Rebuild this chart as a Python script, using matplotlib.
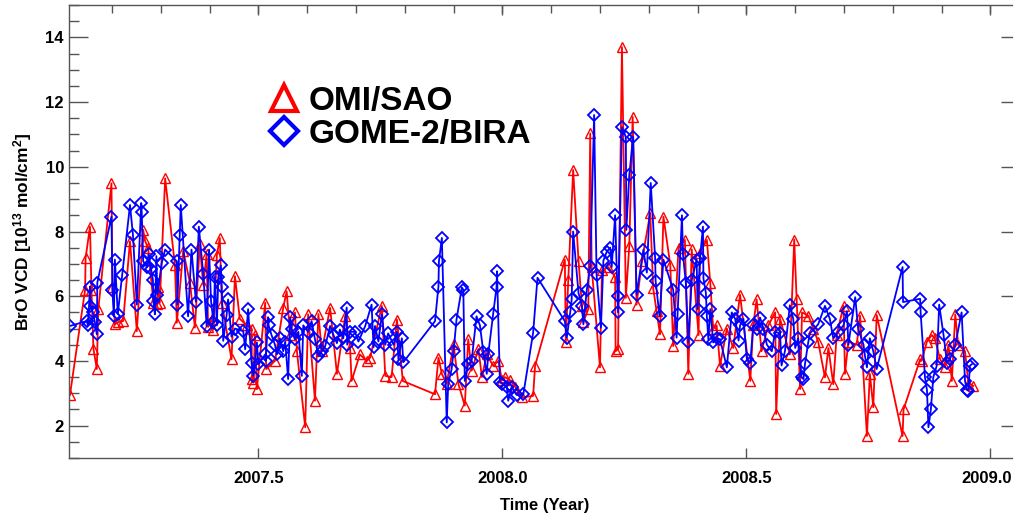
import matplotlib
matplotlib.use('Agg')
import matplotlib.pyplot as plt
import matplotlib.transforms as mtransforms
from matplotlib.lines import Line2D
from matplotlib.ticker import MultipleLocator

# ---- font ----
plt.rcParams['font.family'] = ['Liberation Sans', 'DejaVu Sans']
plt.rcParams['font.weight'] = 'bold'
plt.rcParams['mathtext.fontset'] = 'custom'
plt.rcParams['mathtext.rm'] = 'Liberation Sans:bold'
plt.rcParams['mathtext.default'] = 'rm'

# ================= data =================
# OMI/SAO
omi_year = [
    2007.114, 2007.145, 2007.146, 2007.155, 2007.158, 2007.162, 2007.169, 2007.172,
    2007.199, 2007.201, 2007.206, 2007.213, 2007.223, 2007.237, 2007.251, 2007.264,
    2007.268, 2007.274, 2007.285, 2007.292, 2007.295, 2007.298, 2007.309, 2007.329,
    2007.333, 2007.346, 2007.360, 2007.370, 2007.380, 2007.387, 2007.394, 2007.397,
    2007.404, 2007.408, 2007.415, 2007.421, 2007.425, 2007.445, 2007.452, 2007.462,
    2007.476, 2007.486, 2007.487, 2007.490, 2007.493, 2007.497, 2007.514, 2007.516,
    2007.534, 2007.551, 2007.558, 2007.565, 2007.575, 2007.579, 2007.596, 2007.602,
    2007.616, 2007.623, 2007.630, 2007.647, 2007.661, 2007.678, 2007.688, 2007.691,
    2007.708, 2007.722, 2007.729, 2007.753, 2007.760, 2007.773, 2007.784, 2007.796,
    2007.862, 2007.869, 2007.876, 2007.886, 2007.900, 2007.910, 2007.923, 2007.930,
    2007.937, 2007.951, 2007.958, 2007.968, 2007.981, 2007.992, 2007.999, 2008.005,
    2008.016, 2008.026, 2008.040, 2008.063, 2008.067, 2008.128, 2008.130, 2008.135,
    2008.145, 2008.156, 2008.163, 2008.166, 2008.176, 2008.180, 2008.183, 2008.200,
    2008.204, 2008.217, 2008.231, 2008.232, 2008.237, 2008.245, 2008.253, 2008.260,
    2008.267, 2008.275, 2008.286, 2008.303, 2008.309, 2008.316, 2008.323, 2008.330,
    2008.344, 2008.350, 2008.361, 2008.374, 2008.381, 2008.388, 2008.402, 2008.405,
    2008.419, 2008.426, 2008.432, 2008.439, 2008.446, 2008.460, 2008.473, 2008.487,
    2008.508, 2008.514, 2008.521, 2008.531, 2008.545, 2008.559, 2008.561, 2008.569,
    2008.589, 2008.598, 2008.603, 2008.610, 2008.614, 2008.627, 2008.637, 2008.647,
    2008.661, 2008.668, 2008.678, 2008.685, 2008.699, 2008.702, 2008.709, 2008.726,
    2008.733, 2008.747, 2008.753, 2008.760, 2008.767, 2008.820, 2008.822, 2008.856,
    2008.859, 2008.870, 2008.880, 2008.886, 2008.897, 2008.907, 2008.914, 2008.921,
    2008.928, 2008.934, 2008.948, 2008.955, 2008.965,
]
omi_vcd = [
    2.95, 6.2, 7.18, 8.15, 6.2, 4.38, 3.75, 5.6,
    9.49, 6.3, 5.13, 5.2, 5.23, 7.7, 4.92, 8.05,
    7.7, 7.5, 5.8, 5.77, 6.3, 5.8, 9.64, 6.97,
    5.18, 7.4, 6.4, 5.03, 7.6, 6.35, 7.3, 5.05,
    5.3, 4.97, 7.27, 7.8, 5.8, 4.05, 6.62, 5.3,
    5.1, 5.0, 3.44, 3.33, 4.8, 3.13, 5.8, 3.75,
    4.0, 5.65, 6.15, 4.8, 5.5, 4.3, 1.95, 5.44,
    2.77, 5.45, 4.3, 5.64, 3.6, 5.4, 4.4, 3.38,
    4.2, 4.0, 4.1, 5.7, 3.54, 3.5, 5.28, 3.38,
    2.97, 4.1, 3.6, 3.3, 4.51, 3.28, 2.62, 4.67,
    3.7, 4.37, 3.5, 4.2, 3.85, 4.0, 3.4, 3.5,
    3.4, 3.2, 2.87, 2.92, 3.85, 7.13, 4.57, 6.5,
    9.9, 7.1, 5.7, 5.2, 5.6, 11.03, 6.9, 3.8,
    6.8, 6.9, 6.6, 4.3, 4.36, 13.7, 5.95, 7.54,
    11.54, 5.74, 7.1, 8.57, 6.25, 5.54, 4.82, 8.46,
    6.97, 4.46, 7.5, 7.74, 3.6, 7.45, 4.8, 7.35,
    7.74, 6.4, 5.0, 5.1, 3.85, 5.0, 4.4, 6.05,
    3.38, 5.1, 5.9, 4.3, 5.1, 5.5, 2.36, 5.3,
    4.2, 7.75, 5.9, 3.13, 5.5, 5.4, 5.0, 4.6,
    3.49, 4.4, 3.28, 4.8, 5.7, 3.6, 4.6, 4.5,
    5.4, 1.68, 3.6, 2.57, 5.42, 1.68, 2.5, 4.05,
    4.0, 4.6, 4.8, 4.7, 4.05, 3.8, 4.5, 3.38,
    5.44, 4.5, 4.3, 3.3, 3.23,
]

# GOME-2/BIRA
gome_year = [
    2007.114, 2007.148, 2007.151, 2007.155, 2007.156, 2007.161, 2007.165, 2007.169,
    2007.170, 2007.199, 2007.201, 2007.204, 2007.206, 2007.212, 2007.221, 2007.237,
    2007.243, 2007.251, 2007.260, 2007.261, 2007.264, 2007.272, 2007.275, 2007.280,
    2007.284, 2007.285, 2007.288, 2007.291, 2007.293, 2007.302, 2007.309, 2007.333,
    2007.334, 2007.339, 2007.341, 2007.356, 2007.363, 2007.372, 2007.378, 2007.387,
    2007.394, 2007.399, 2007.403, 2007.408, 2007.411, 2007.415, 2007.418, 2007.423,
    2007.425, 2007.428, 2007.435, 2007.438, 2007.445, 2007.452, 2007.469, 2007.473,
    2007.479, 2007.486, 2007.490, 2007.497, 2007.500, 2007.514, 2007.515, 2007.520,
    2007.521, 2007.527, 2007.534, 2007.538, 2007.544, 2007.551, 2007.555, 2007.561,
    2007.565, 2007.568, 2007.575, 2007.582, 2007.589, 2007.592, 2007.602, 2007.609,
    2007.616, 2007.623, 2007.630, 2007.637, 2007.647, 2007.654, 2007.661, 2007.667,
    2007.674, 2007.681, 2007.682, 2007.688, 2007.698, 2007.705, 2007.719, 2007.732,
    2007.736, 2007.739, 2007.746, 2007.753, 2007.760, 2007.766, 2007.777, 2007.784,
    2007.787, 2007.794, 2007.797, 2007.862, 2007.869, 2007.870, 2007.876, 2007.886,
    2007.889, 2007.896, 2007.900, 2007.906, 2007.917, 2007.920, 2007.923, 2007.930,
    2007.937, 2007.947, 2007.954, 2007.961, 2007.968, 2007.971, 2007.981, 2007.988,
    2007.989, 2007.995, 2007.999, 2008.009, 2008.012, 2008.019, 2008.029, 2008.043,
    2008.063, 2008.072, 2008.128, 2008.132, 2008.139, 2008.142, 2008.145, 2008.156,
    2008.163, 2008.166, 2008.173, 2008.180, 2008.188, 2008.193, 2008.202, 2008.207,
    2008.214, 2008.221, 2008.224, 2008.231, 2008.236, 2008.237, 2008.245, 2008.253,
    2008.254, 2008.260, 2008.268, 2008.275, 2008.289, 2008.296, 2008.304, 2008.313,
    2008.314, 2008.322, 2008.330, 2008.350, 2008.357, 2008.359, 2008.368, 2008.370,
    2008.376, 2008.381, 2008.388, 2008.398, 2008.400, 2008.405, 2008.411, 2008.412,
    2008.417, 2008.419, 2008.422, 2008.426, 2008.432, 2008.439, 2008.446, 2008.460,
    2008.470, 2008.477, 2008.484, 2008.487, 2008.494, 2008.501, 2008.508, 2008.514,
    2008.521, 2008.528, 2008.535, 2008.542, 2008.552, 2008.559, 2008.569, 2008.572,
    2008.579, 2008.589, 2008.596, 2008.600, 2008.606, 2008.613, 2008.617, 2008.620,
    2008.627, 2008.630, 2008.647, 2008.661, 2008.671, 2008.678, 2008.688, 2008.699,
    2008.706, 2008.709, 2008.723, 2008.729, 2008.740, 2008.743, 2008.747, 2008.753,
    2008.760, 2008.767, 2008.820, 2008.821, 2008.856, 2008.857, 2008.866, 2008.870,
    2008.873, 2008.878, 2008.883, 2008.890, 2008.895, 2008.904, 2008.911, 2008.917,
    2008.928, 2008.941, 2008.948, 2008.952, 2008.955, 2008.958, 2008.962,
]
gome_vcd = [
    5.08, 5.23, 5.1, 6.3, 5.7, 5.5, 5.2, 4.82,
    6.42, 8.46, 6.2, 5.38, 7.13, 5.45, 6.67, 8.82,
    7.9, 5.74, 8.88, 8.6, 7.08, 6.9, 7.3, 6.85,
    6.5, 5.85, 5.44, 7.24, 6.05, 7.03, 7.44, 7.08,
    5.74, 7.9, 8.82, 5.38, 7.44, 5.83, 8.15, 6.7,
    5.08, 7.44, 5.86, 5.2, 6.6, 5.1, 6.6, 6.95,
    6.3, 4.62, 5.43, 5.9, 4.75, 5.0, 4.92, 4.36,
    5.6, 3.95, 3.54, 4.57, 3.9, 4.2, 4.0, 5.35,
    5.1, 4.8, 4.5, 4.2, 4.7, 4.3, 4.6, 3.44,
    5.35, 5.0, 4.67, 4.9, 3.54, 5.1, 4.9, 5.23,
    4.67, 4.15, 4.3, 4.46, 5.08, 4.8, 4.55, 4.97,
    4.7, 5.65, 4.5, 4.9, 4.9, 4.6, 5.08, 5.74,
    4.42, 5.08, 4.6, 5.44, 4.5, 4.85, 4.5, 4.9,
    4.05, 4.7, 3.96, 5.23, 6.3, 7.08, 7.8, 2.1,
    3.28, 3.75, 4.3, 5.28, 6.27, 6.2, 3.38, 3.9,
    4.0, 5.38, 5.1, 4.27, 3.6, 4.2, 5.44, 6.27,
    6.77, 3.34, 3.3, 3.2, 2.77, 3.2, 2.95, 2.97,
    4.87, 6.57, 5.23, 4.72, 5.5, 5.9, 8.0, 6.1,
    5.7, 5.13, 6.2, 6.92, 11.6, 6.67, 5.03, 7.1,
    7.38, 7.5, 6.9, 8.5, 6.0, 5.5, 11.23, 10.92,
    8.05, 9.74, 10.92, 6.05, 7.44, 6.73, 9.5, 7.18,
    6.47, 5.38, 7.13, 6.2, 4.72, 5.44, 8.5, 7.3,
    6.4, 4.57, 6.5, 7.13, 5.6, 7.18, 8.15, 6.55,
    6.1, 5.38, 4.67, 5.6, 4.57, 4.7, 4.67, 3.8,
    5.5, 5.3, 4.63, 5.1, 5.3, 4.05, 3.95, 5.1,
    5.0, 5.34, 5.0, 4.5, 4.3, 4.9, 4.85, 3.86,
    4.3, 5.72, 5.3, 4.4, 4.7, 3.49, 3.44, 3.9,
    4.6, 4.85, 5.13, 5.7, 5.3, 4.7, 4.9, 5.1,
    5.54, 4.5, 5.97, 5.0, 4.5, 4.15, 3.8, 4.7,
    4.3, 3.75, 6.9, 5.82, 5.92, 5.5, 3.49, 3.1,
    1.95, 2.5, 3.5, 3.85, 5.74, 4.8, 3.95, 4.05,
    4.5, 5.5, 3.38, 3.1, 3.08, 3.85, 3.9,
]

x_major = [2007.5, 2008.0, 2008.5, 2009.0]

# ================= plot =================
fig = plt.figure(figsize=(10.13, 5.16), dpi=100, facecolor='white')
ax = fig.add_axes([0.0686, 0.1124, 0.938, 0.8779])

ax.plot(omi_year, omi_vcd, color='#FF0000', lw=1.3, marker='^', ms=7.5,
        mfc='none', mec='#FF0000', mew=1.0)
ax.plot(gome_year, gome_vcd, color='#0000FF', lw=1.3, marker='D', ms=6.2,
        mfc='none', mec='#0000FF', mew=1.3)

ax.set_xlim(2007.113, 2009.06)
ax.set_ylim(1, 15)

# ---- ticks: IDL style, inward ----
ax.set_xticks(x_major)
ax.set_xticklabels([f"{v:.1f}" for v in x_major])
ax.yaxis.set_major_locator(MultipleLocator(2))
ax.yaxis.set_minor_locator(MultipleLocator(0.5))
ax.set_yticks([2, 4, 6, 8, 10, 12, 14])
ax.tick_params(axis='y', which='major', direction='in', length=14, width=1,
               left=True, right=True, labelsize=12, pad=4, color='#555555')
ax.tick_params(axis='y', which='minor', direction='in', length=7, width=1,
               left=True, right=False, color='#555555')
ax.tick_params(axis='x', which='major', direction='in', length=7, width=1,
               top=True, bottom=True, labelsize=12, pad=9, color='#555555')

# last x label sits on the figure edge: nudge it a few pixels left
last_lbl = ax.get_xticklabels()[-1]
last_lbl.set_transform(last_lbl.get_transform() +
                       mtransforms.ScaledTranslation(-4 / 100, 0, fig.dpi_scale_trans))

# top axis carries 0.1-year ticks
sec = ax.secondary_xaxis('top')
sec.xaxis.set_major_locator(MultipleLocator(0.1))
sec.tick_params(direction='in', length=6, width=1, labeltop=False, color='#555555')
sec.spines['top'].set_visible(False)

for sp in ax.spines.values():
    sp.set_color('#555555')
    sp.set_linewidth(1.0)

ax.set_xlabel('Time (Year)', fontsize=12, fontweight='bold', labelpad=9)
ax.set_ylabel('BrO VCD [10$^{13}$ mol/cm$^{2}$]', fontsize=12.5,
              fontweight='bold', labelpad=8)

# ---- legend ----
handles = [
    Line2D([], [], ls='none', marker='^', ms=19, mfc='none', mec='#FF0000', mew=3),
    Line2D([], [], ls='none', marker='D', ms=14, mfc='none', mec='#0000FF', mew=3),
]
ax.legend(handles, ['OMI/SAO', 'GOME-2/BIRA'], loc='upper left',
          bbox_to_anchor=(0.194, 0.858), frameon=False,
          prop={'size': 24, 'weight': 'bold'}, handlelength=0.8,
          handletextpad=0.35, labelspacing=0.05, borderpad=0)

fig.savefig('out.png', dpi=100, facecolor='white')
